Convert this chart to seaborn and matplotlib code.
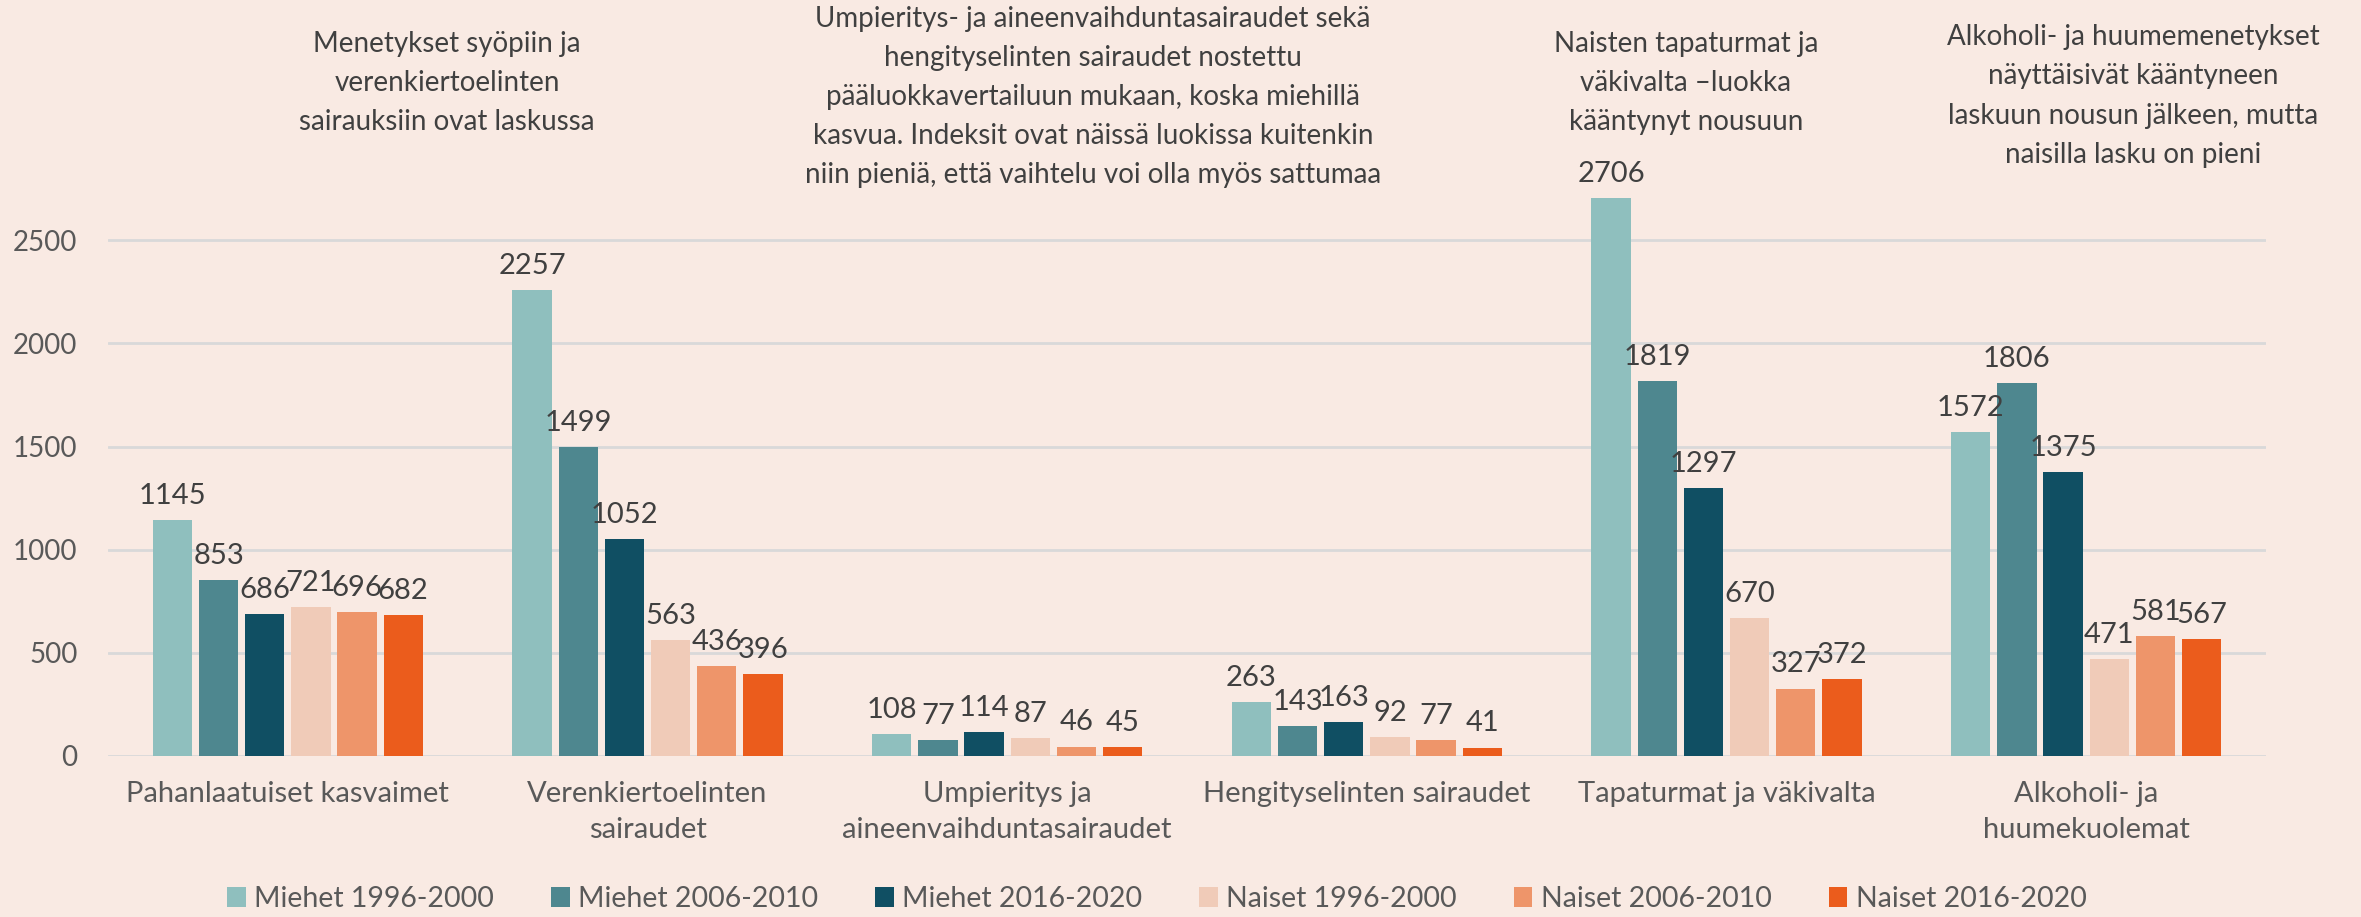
import matplotlib.pyplot as plt
import seaborn as sns
import pandas as pd

# Data
categories = ['Pahanlaatuiset kasvaimet', 'Verenkiertoelinten\nsairaudet',
              'Umpieritys ja\naineenvaihduntasairaudet', 'Hengityselinten sairaudet',
              'Tapaturmat ja väkivalta', 'Alkoholi- ja\nhuumekuolemat']
series = ['Miehet 1996-2000', 'Miehet 2006-2010', 'Miehet 2016-2020',
          'Naiset 1996-2000', 'Naiset 2006-2010', 'Naiset 2016-2020']
miehet_1996 = [1145, 2257, 108, 263, 2706, 1572]
miehet_2006 = [853, 1499, 77, 143, 1819, 1806]
miehet_2016 = [686, 1052, 114, 163, 1297, 1375]
naiset_1996 = [721, 563, 87, 92, 670, 471]
naiset_2006 = [696, 436, 46, 77, 327, 581]
naiset_2016 = [682, 396, 45, 41, 372, 567]

notes = [
    'Menetykset syöpiin ja\nverenkiertoelinten\nsairauksiin ovat laskussa',
    'Umpieritys- ja aineenvaihduntasairaudet sekä\nhengityselinten sairaudet nostettu\n'
    'pääluokkavertailuun mukaan, koska miehillä\nkasvua. Indeksit ovat näissä luokissa kuitenkin\n'
    'niin pieniä, että vaihtelu voi olla myös sattumaa',
    'Naisten tapaturmat ja\nväkivalta –luokka\nkääntynyt nousuun',
    'Alkoholi- ja huumemenetykset\nnäyttäisivät kääntyneen\nlaskuun nousun jälkeen, mutta\nnaisilla lasku on pieni',
]

colors = ['#8FBFBE', '#4E878F', '#104F63', '#F0CBB8', '#EE956A', '#EB5C1C']
bg = '#F9EAE3'
txt = '#404040'

values = [miehet_1996, miehet_2006, miehet_2016, naiset_1996, naiset_2006, naiset_2016]
rows = []
for s, vals in zip(series, values):
    for c, v in zip(categories, vals):
        rows.append({'Luokka': c, 'Sarja': s, 'Arvo': v})
df = pd.DataFrame(rows)

sns.set_theme(style='white')
plt.rcParams['font.family'] = ['Lato', 'DejaVu Sans']

fig = plt.figure(figsize=(23.61, 9.17), dpi=100, facecolor=bg)
ax = fig.add_axes([108 / 2361, 1 - 756 / 917, (2266 - 108) / 2361, 0.63])
ax.set_facecolor(bg)

sns.barplot(data=df, x='Luokka', y='Arvo', hue='Sarja', order=categories,
            hue_order=series, palette=colors, saturation=1, width=0.77, gap=0.15,
            linewidth=0, ax=ax, legend=True)

for cont in ax.containers:
    ax.bar_label(cont, fmt='%d', padding=8, fontsize=21, color=txt)

ax.set_ylim(0, 2800)
ax.set_yticks([0, 500, 1000, 1500, 2000, 2500])
ax.set_xlim(-0.5, 5.5)
ax.yaxis.grid(True, color='#D9D9D9', linewidth=2)
ax.set_axisbelow(True)
for sp in ax.spines.values():
    sp.set_visible(False)
ax.tick_params(axis='y', length=0, pad=22, labelsize=20, labelcolor='#595959')
ax.tick_params(axis='x', length=0, pad=18, labelsize=21, labelcolor='#595959')
for lbl in ax.get_xticklabels():
    lbl.set_linespacing(1.5)
ax.set_xlabel('')
ax.set_ylabel('')

ax.legend(loc='center', bbox_to_anchor=(0.49, 1 - 899 / 917), bbox_transform=fig.transFigure,
          ncol=6, frameon=False, fontsize=20.5, labelcolor='#595959',
          handlelength=0.65, handleheight=0.65, handletextpad=0.3, columnspacing=2.0)

# Annotation texts above the groups
note_pos = [(447, 83), (1093, 97), (1686, 83), (2133, 96)]
for n, (px, py) in zip(notes, note_pos):
    fig.text(px / 2361, 1 - py / 917, n, ha='center', va='center', fontsize=20,
             color=txt, linespacing=1.62)

fig.savefig('out.png', dpi=100, facecolor=bg)
